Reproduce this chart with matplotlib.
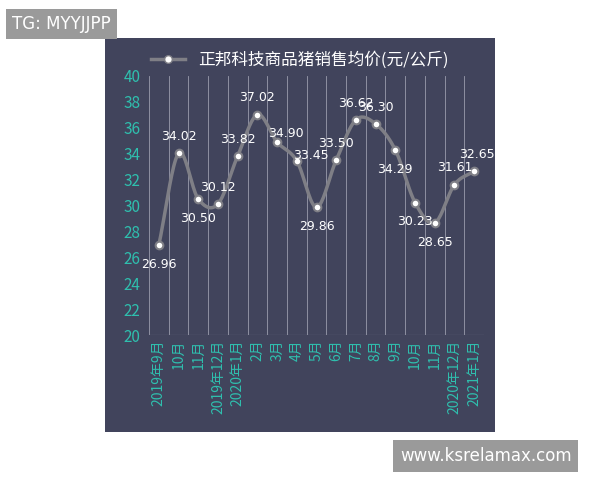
import matplotlib
matplotlib.use("Agg")
import matplotlib.pyplot as plt
import numpy as np

plt.rcParams['font.family'] = ['Noto Sans CJK SC', 'DejaVu Sans']

months = ["2019年9月", "10月", "11月", "2019年12月", "2020年1月", "2月", "3月", "4月", "5月",
          "6月", "7月", "8月", "9月", "10月", "11月", "2020年12月", "2021年1月"]
prices = [26.96, 34.02, 30.50, 30.12, 33.82, 37.02, 34.90, 33.45, 29.86,
          33.50, 36.62, 36.30, 34.29, 30.23, 28.65, 31.61, 32.65]
series_name = "正邦科技商品猪销售均价(元/公斤)"
label_offsets = [(0, -14), (0, 12), (0, -14), (0, 12), (0, 12), (0, 12), (6, 6), (10, 4),
                 (0, -14), (0, 12), (0, 12), (0, 12), (0, -14), (0, -14), (0, -14), (0, 12), (2, 12)]

BG = "#41445c"
TEAL = "#2fbfae"

fig = plt.figure(figsize=(6, 4.8), dpi=100)
fig.patch.set_facecolor("white")
bg = fig.add_axes([105/600, 1-432/480, 390/600, 394/480], zorder=-1)
bg.set_facecolor(BG)
bg.set_xticks([]); bg.set_yticks([])
for s in bg.spines.values():
    s.set_visible(False)

ax = fig.add_axes([149/600, 1-335/480, 335/600, 259/480], zorder=1)
ax.set_facecolor(BG)
x = np.arange(len(prices))
y = np.array(prices)

def catmull(xs, ys, n=20):
    px = np.concatenate([[2*xs[0]-xs[1]], xs, [2*xs[-1]-xs[-2]]])
    py = np.concatenate([[2*ys[0]-ys[1]], ys, [2*ys[-1]-ys[-2]]])
    ox, oy = [], []
    for i in range(1, len(px)-2):
        t = np.linspace(0, 1, n, endpoint=False)
        for p, o in ((px, ox), (py, oy)):
            p0, p1, p2, p3 = p[i-1], p[i], p[i+1], p[i+2]
            o.extend(0.5*((2*p1) + (-p0+p2)*t + (2*p0-5*p1+4*p2-p3)*t**2 + (-p0+3*p1-3*p2+p3)*t**3))
    ox.append(xs[-1]); oy.append(ys[-1])
    return np.array(ox), np.array(oy)

sx, sy = catmull(x.astype(float), y)
ax.plot(sx, sy, color="#7f7f86", lw=2.5, zorder=2)
ax.plot(x, y, "o", ms=5.5, mfc="white", mec="#7f7f86", mew=1.5, zorder=3)
for xi, yi, (dx, dy) in zip(x, y, label_offsets):
    ax.annotate(f"{yi:.2f}", (xi, yi), xytext=(dx, dy), textcoords="offset points",
                ha="center", va="center", color="white", fontsize=9, family=['DejaVu Sans'])

ax.set_xlim(-0.5, len(prices)-0.5)
ax.set_ylim(20, 40)
ax.set_yticks(range(20, 41, 2))
ax.set_xticks(x)
ax.set_xticklabels(months, rotation=90, color=TEAL, fontsize=10)
ax.tick_params(axis='y', colors=TEAL, labelsize=11, length=0, pad=6)
ax.tick_params(axis='x', length=0)
for b in np.arange(-0.5, len(prices), 1):
    ax.axvline(b, color="#9a9cad", lw=0.6, zorder=1)
ax.axhline(20, color="#9a9cad", lw=0.8)
for s in ax.spines.values():
    s.set_visible(False)

h, = ax.plot([], [], "-o", color="#7f7f86", lw=2.5, ms=5.5, mfc="white", mec="#7f7f86")
leg = ax.legend(handles=[h], labels=[series_name], loc="center", bbox_to_anchor=(300/600, 1-60/480),
                bbox_transform=fig.transFigure, frameon=False, fontsize=12, labelcolor="white",
                handlelength=2)

fig.text(12/600, 1-24/480, "TG: MYYJJPP", color="white", fontsize=12, va="center",
         family=['DejaVu Sans'], bbox=dict(boxstyle="square,pad=0.35", fc="#9a9a9a", ec="none"))
fig.text(400/600, 1-456/480, "www.ksrelamax.com", color="white", fontsize=12, va="center",
         family=['DejaVu Sans'], bbox=dict(boxstyle="square,pad=0.4", fc="#9a9a9a", ec="none"))

fig.savefig("out.png", dpi=100)
